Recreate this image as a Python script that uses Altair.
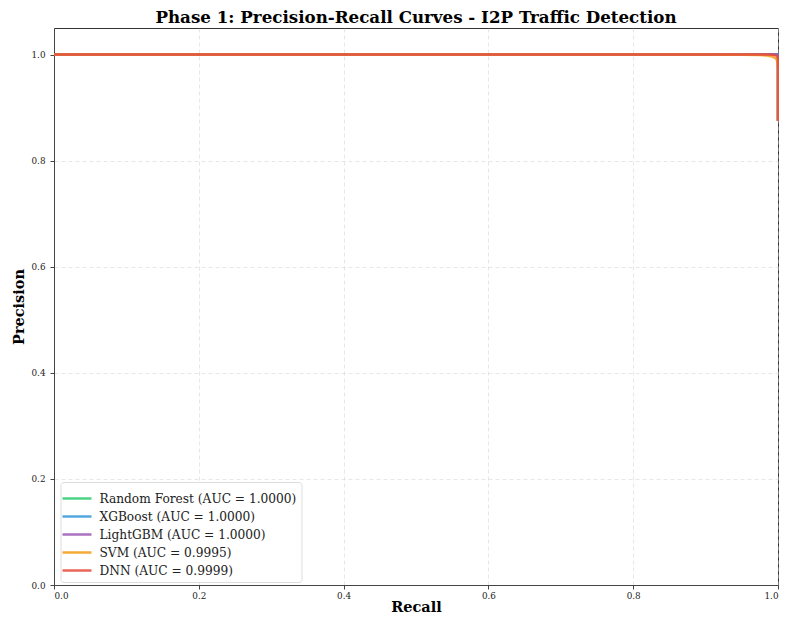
import altair as alt
import pandas as pd

models = ["Random Forest", "XGBoost", "LightGBM", "SVM", "DNN"]
aucs = ["1.0000", "1.0000", "1.0000", "0.9995", "0.9999"]
colors = ["#2ecc71", "#3498db", "#9b59b6", "#f39c12", "#e74c3c"]

rf_recall = [0.0, 0.5, 0.999, 1.0, 1.0]
rf_prec = [1.0, 1.0, 1.0, 1.0, 0.875]
xgb_recall = [0.0, 0.5, 0.999, 1.0, 1.0]
xgb_prec = [1.0, 1.0, 1.0, 1.0, 0.875]
lgbm_recall = [0.0, 0.5, 0.999, 1.0, 1.0]
lgbm_prec = [1.0, 1.0, 1.0, 1.0, 0.875]
svm_recall = [0.0, 0.5, 0.9, 0.95, 0.975, 0.985, 0.992, 0.997, 0.999, 1.0, 1.0]
svm_prec = [1.0, 1.0, 1.0, 0.9995, 0.999, 0.998, 0.996, 0.993, 0.988, 0.972, 0.875]
dnn_recall = [0.0, 0.5, 0.99, 0.996, 0.999, 1.0, 1.0]
dnn_prec = [1.0, 1.0, 1.0, 0.999, 0.997, 0.994, 0.875]

curves = [
    (rf_recall, rf_prec),
    (xgb_recall, xgb_prec),
    (lgbm_recall, lgbm_prec),
    (svm_recall, svm_prec),
    (dnn_recall, dnn_prec),
]

labels = [f"{m} (AUC = {a})" for m, a in zip(models, aucs)]
rows = []
for k, (lab, (rec, pre)) in enumerate(zip(labels, curves)):
    for i, (r, p) in enumerate(zip(rec, pre)):
        rows.append({"model": lab, "recall": r, "precision": p, "step": i, "layer": k})
df = pd.DataFrame(rows)

FONT = "DejaVu Serif"

chart = (
    alt.Chart(df)
    .mark_line(strokeWidth=2.5, opacity=0.85, strokeJoin="miter")
    .encode(
        x=alt.X(
            "recall:Q",
            title="Recall",
            scale=alt.Scale(domain=[0, 1], nice=False, zero=False),
            axis=alt.Axis(values=[0, 0.2, 0.4, 0.6, 0.8, 1.0], format=".1f",
                          titlePadding=1, labelPadding=2),
        ),
        y=alt.Y(
            "precision:Q",
            title="Precision",
            scale=alt.Scale(domain=[0, 1.05], nice=False, zero=False),
            axis=alt.Axis(values=[0, 0.2, 0.4, 0.6, 0.8, 1.0], format=".1f",
                          titlePadding=5, labelPadding=5),
        ),
        color=alt.Color(
            "model:N",
            scale=alt.Scale(domain=labels, range=colors),
            sort=labels,
            legend=alt.Legend(
                title=None,
                orient="none",
                legendX=6.5,
                legendY=454,
                symbolType="M-1.45,0H1.45",
                symbolSize=400,
                symbolStrokeWidth=2.5,
                labelFontSize=12.2,
                labelFont=FONT,
                labelColor="#222",
                labelOffset=11,
                rowPadding=-1,
                padding=5,
                fillColor="white",
                strokeColor="#dddddd",
                cornerRadius=3,
                labelLimit=400,
            ),
        ),
        order="step:Q",
        detail="layer:N",
    )
    .properties(
        width=724,
        height=557,
        background="white",
        title=alt.TitleParams(
            "Phase 1: Precision-Recall Curves - I2P Traffic Detection",
            font=FONT,
            fontSize=16.7,
            fontWeight="bold",
            color="black",
            anchor="middle",
            offset=1,
        ),
        autosize="none",
        padding={"left": 46, "top": 20, "right": 1, "bottom": 30},
    )
    .configure(font=FONT)
    .configure_view(stroke="#333333", strokeWidth=1)
    .configure_axis(
        labelFont=FONT,
        labelFontSize=8.8,
        labelColor="#222",
        titleFont=FONT,
        titleFontSize=14.5,
        titleFontWeight="bold",
        titleColor="black",
        domainColor="#444444",
        tickColor="#444444",
        tickSize=4,
        gridColor="#cccccc",
        gridOpacity=0.6,
        gridDash=[4, 3],
        gridWidth=0.8,
    )
)

chart.save("out.html", embed_options={"renderer": "svg", "actions": False})
